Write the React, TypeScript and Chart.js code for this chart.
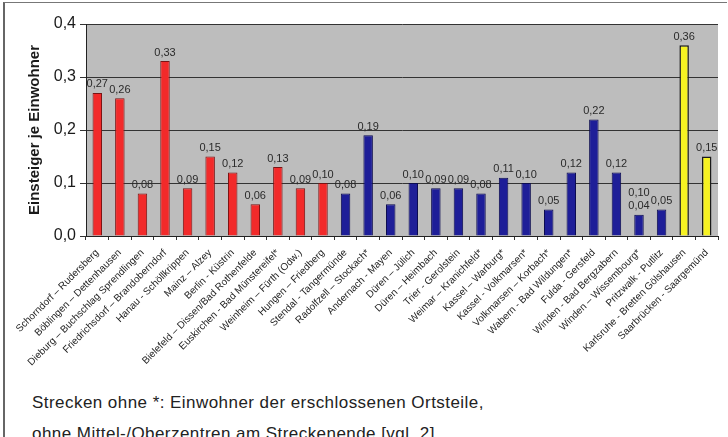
import React, { useEffect, useRef } from "react";
import { Chart, registerables } from "chart.js";

Chart.register(...registerables);

const categories = [
  "Schorndorf – Rudersberg",
  "Böblingen – Dettenhausen",
  "Dieburg – Buchschlag Sprendlingen",
  "Friedrichsdorf – Brandoberndorf",
  "Hanau - Schöllkrippen",
  "Mainz – Alzey",
  "Berlin - Küstrin",
  "Bielefeld – Dissen/Bad Rothenfelde",
  "Euskirchen - Bad Münstereifel*",
  "Weinheim – Fürth (Odw.)",
  "Hungen – Friedberg",
  "Stendal - Tangermünde",
  "Radolfzell – Stockach*",
  "Andernach - Mayen",
  "Düren – Jülich",
  "Düren – Heimbach",
  "Trier - Gerolstein",
  "Weimar – Kranichfeld*",
  "Kassel – Warburg*",
  "Kassel - Volkmarsen*",
  "Volkmarsen – Korbach*",
  "Wabern - Bad Wildungen*",
  "Fulda - Gersfeld",
  "Winden - Bad Bergzabern",
  "Winden – Wissembourg*",
  "Pritzwalk - Putlitz",
  "Karlsruhe - Bretten Gölshausen",
  "Saarbrücken - Saargemünd",
];

const values = [
  0.27, 0.26, 0.08, 0.33, 0.09, 0.15, 0.12, 0.06, 0.13, 0.09, 0.10,
  0.08, 0.19, 0.06, 0.10, 0.09, 0.09, 0.08, 0.11, 0.10, 0.05, 0.12,
  0.22, 0.12, 0.04, 0.05, 0.36, 0.15,
];

// group of each route: r = red, b = blue, y = yellow
const groups = [
  "r", "r", "r", "r", "r", "r", "r", "r", "r", "r", "r",
  "b", "b", "b", "b", "b", "b", "b", "b", "b", "b", "b",
  "b", "b", "b", "b", "y", "y",
];

// additional value label printed above a bar
const extraLabels = [
  "", "", "", "", "", "", "", "", "", "", "",
  "", "", "", "", "", "", "", "", "", "", "",
  "", "", "0,10", "", "", "",
];

const yTickValues = [0, 0.1, 0.2, 0.3, 0.4];

const footnoteLines = [
  "Strecken ohne *: Einwohner der erschlossenen Ortsteile,",
  "ohne Mittel-/Oberzentren am Streckenende [vgl. 2]",
];

const FILL: Record<string, string> = { r: "#f22a2a", b: "#1e1e98", y: "#f6f222" };
const EDGE: Record<string, string> = { r: "#7a1414", b: "#0c0c50", y: "#1a1a1a" };

const FONT = "Arial, 'Liberation Sans', sans-serif";
const W = 728;
const H = 370;
const AREA_LEFT = 86;
const AREA_TOP = 24;
const AREA_BOTTOM = 236;
const AREA_RIGHT = 718;

const fmt = (v: number, d: number) => v.toFixed(d).replace(".", ",");

export default function App() {
  const ref = useRef<HTMLCanvasElement | null>(null);

  useEffect(() => {
    if (!ref.current) return;

    const bgPlugin = {
      id: "plotBg",
      beforeDraw(chart: any) {
        const { ctx, chartArea } = chart;
        ctx.save();
        ctx.fillStyle = "#bdbdbd";
        ctx.fillRect(chartArea.left, chartArea.top, chartArea.right - chartArea.left, chartArea.bottom - chartArea.top);
        ctx.restore();
      },
    };

    const labelPlugin = {
      id: "barLabels",
      afterDatasetsDraw(chart: any) {
        const ctx = chart.ctx;
        const meta = chart.getDatasetMeta(0);
        ctx.save();
        ctx.font = `11px ${FONT}`;
        ctx.fillStyle = "#2a2a2a";
        ctx.textAlign = "center";
        ctx.textBaseline = "bottom";
        meta.data.forEach((bar: any, i: number) => {
          ctx.fillText(fmt(values[i], 2), bar.x, bar.y - 3);
          if (extraLabels[i]) ctx.fillText(extraLabels[i], bar.x, bar.y - 16);
        });
        ctx.restore();
      },
    };

    const chart = new Chart(ref.current, {
      type: "bar",
      data: {
        labels: categories,
        datasets: [
          {
            data: values,
            backgroundColor: groups.map((g) => FILL[g]),
            borderColor: groups.map((g) => EDGE[g]),
            borderWidth: groups.map((g) => (g === "y" ? 1.5 : 1)),
            barPercentage: 0.42,
            categoryPercentage: 1,
          },
        ],
      },
      options: {
        animation: false,
        responsive: false,
        devicePixelRatio: 1,
        layout: { padding: { top: AREA_TOP, right: W - AREA_RIGHT, left: 0, bottom: 0 } },
        plugins: {
          legend: { display: false },
          tooltip: { enabled: false },
        },
        scales: {
          x: {
            afterFit: (s: any) => {
              s.height = H - AREA_BOTTOM;
            },
            grid: {
              display: true,
              drawOnChartArea: false,
              drawTicks: true,
              tickLength: 4,
              color: "#333",
              offset: true,
            },
            border: { display: true, color: "#222", width: 1 },
            ticks: {
              autoSkip: false,
              maxRotation: 45,
              minRotation: 45,
              padding: 7,
              color: "#1e1e1e",
              font: { family: FONT, size: 10 },
            },
          },
          y: {
            min: 0,
            max: 0.4,
            afterFit: (s: any) => {
              s.width = AREA_LEFT;
            },
            afterBuildTicks: (s: any) => {
              s.ticks = yTickValues.map((v) => ({ value: v }));
            },
            ticks: {
              color: "#1a1a1a",
              padding: 4,
              font: { family: FONT, size: 16 },
              callback: (v: any) => fmt(Number(v), 1),
            },
            grid: { color: "#333", lineWidth: 1, tickLength: 6, drawTicks: true },
            border: { display: true, color: "#222", width: 1 },
            title: {
              display: true,
              text: "Einsteiger je Einwohner",
              color: "#1a1a1a",
              font: { family: FONT, size: 15, weight: "bold" },
              padding: { top: 26, bottom: 0 },
            },
          },
        },
      },
      plugins: [bgPlugin, labelPlugin],
    });

    return () => chart.destroy();
  }, []);

  return (
    <div
      style={{
        position: "absolute",
        left: 0,
        top: 0,
        width: W,
        height: 437,
        overflow: "hidden",
        background: "#fff",
        fontFamily: FONT,
      }}
    >
      <div
        style={{
          position: "absolute",
          left: 3,
          top: 2,
          width: 722,
          height: 460,
          borderLeft: "2px solid #666",
          borderTop: "1px solid #777",
        }}
      />
      <canvas ref={ref} width={W} height={H} style={{ position: "absolute", left: 0, top: 0, width: W, height: H }} />
      {footnoteLines.map((t, i) => (
        <div
          key={i}
          style={{
            position: "absolute",
            left: 32,
            top: 392.5 + i * 31,
            fontSize: 17,
            letterSpacing: "0.45px",
            color: "#222",
            whiteSpace: "nowrap",
            lineHeight: "20px",
          }}
        >
          {t}
        </div>
      ))}
    </div>
  );
}
